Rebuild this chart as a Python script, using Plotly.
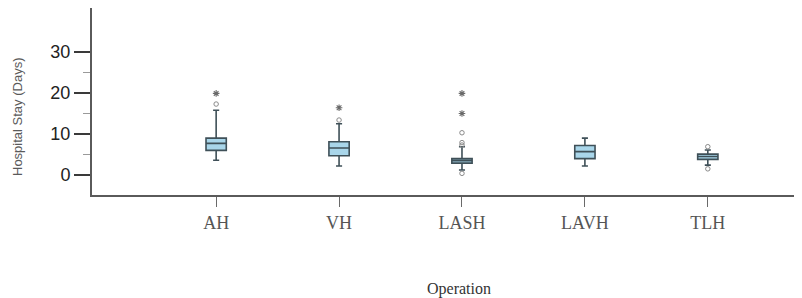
import plotly.graph_objects as go

categories = ["AH", "VH", "LASH", "LAVH", "TLH"]
q1 = [6.0, 4.7, 2.9, 4.0, 3.8]
median = [7.7, 6.6, 3.5, 5.7, 4.5]
q3 = [9.0, 8.1, 4.0, 7.2, 5.1]
lower_whisker = [3.6, 2.2, 1.2, 2.2, 2.4]
upper_whisker = [15.8, 12.5, 6.9, 9.0, 6.1]

outlier_x = ["AH", "VH", "LASH", "LASH", "LASH", "LASH", "TLH", "TLH"]
outlier_y = [17.3, 13.4, 0.4, 7.3, 7.9, 10.3, 6.9, 1.5]
extreme_x = ["AH", "VH", "LASH", "LASH"]
extreme_y = [19.9, 16.4, 15.0, 19.9]

y_ticks = [0, 10, 20, 30]
y_minor_ticks = [5, 15, 25]

fig = go.Figure()
fig.add_trace(go.Box(
    x=categories, q1=q1, median=median, q3=q3,
    lowerfence=lower_whisker, upperfence=upper_whisker,
    boxpoints=False, width=0.165, whiskerwidth=0.3,
    fillcolor="#a9d6ea", line=dict(color="#3f5058", width=1.6),
    showlegend=False,
))
fig.add_trace(go.Scatter(
    x=outlier_x, y=outlier_y, mode="markers",
    marker=dict(symbol="circle-open", size=4.5, color="#8a8a8a", line=dict(width=1)),
    showlegend=False,
))
fig.add_trace(go.Scatter(
    x=extreme_x, y=extreme_y, mode="markers",
    marker=dict(symbol="asterisk-open", size=5.5, color="#6a6a6a", line=dict(width=1.1)),
    showlegend=False,
))

# page body has an 8px default margin, so the figure is sized to the visible area
W, H = 794, 290
L, R, T, B = 84, 2, 0, 103
pw, ph = W - L - R, H - T - B

fig.update_layout(
    width=W, height=H,
    margin=dict(l=L, r=R, t=T, b=B, pad=0, autoexpand=False),
    plot_bgcolor="white", paper_bgcolor="white",
    xaxis=dict(
        type="category", categoryorder="array", categoryarray=categories,
        range=[-1.01, 4.75], automargin=False,
        showline=True, linecolor="#5a5a5a", linewidth=2,
        ticks="outside", ticklen=10, tickcolor="#6a6a6a", tickwidth=1.2,
        showgrid=False, zeroline=False,
        tickfont=dict(family="Liberation Serif, serif", size=18, color="#555555"),
    ),
    yaxis=dict(
        range=[-4.88, 40.73], automargin=False,
        tickvals=y_ticks,
        showline=True, linecolor="#5a5a5a", linewidth=2,
        ticks="outside", ticklen=16, tickcolor="#3a3a3a", tickwidth=1.5,
        showgrid=False, zeroline=False,
        tickfont=dict(family="Liberation Sans, Arial, sans-serif", size=18, color="#222222"),
        minor=dict(ticks="outside", ticklen=7, tickvals=y_minor_ticks, tickcolor="#9a9a9a", tickwidth=1),
    ),
    annotations=[
        dict(text="Operation", x=(451 - L) / pw, xref="paper", y=-(281 - T - ph) / ph, yref="paper",
             showarrow=False, font=dict(family="Liberation Serif, serif", size=16, color="#333333"),
             xanchor="center", yanchor="middle"),
        dict(text="Hospital Stay (Days)", x=-(L - 9) / pw, xref="paper", y=1 - (109 - T) / ph, yref="paper",
             textangle=-90, showarrow=False,
             font=dict(family="Liberation Sans, Arial, sans-serif", size=13, color="#5a5a5a"),
             xanchor="center", yanchor="middle"),
    ],
)

fig.write_html("out.html")
